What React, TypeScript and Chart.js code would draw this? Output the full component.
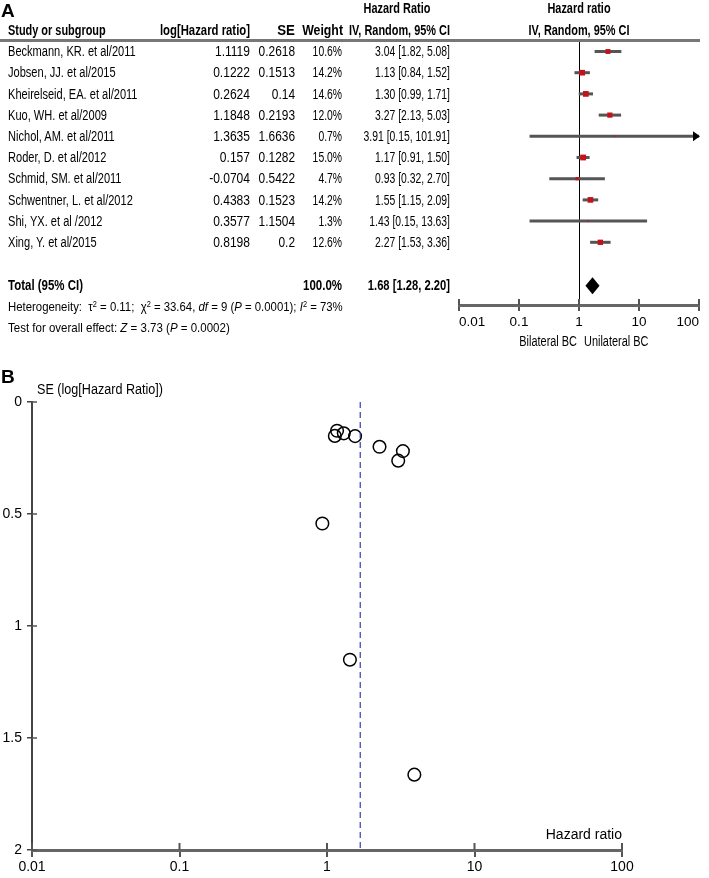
import React, { useEffect, useRef } from 'react';
import { Chart, registerables } from 'chart.js';
Chart.register(...registerables);

// ---------- data ----------
const studyNames = [
  'Beckmann, KR. et al/2011',
  'Jobsen, JJ. et al/2015',
  'Kheirelseid, EA. et al/2011',
  'Kuo, WH. et al/2009',
  'Nichol, AM. et al/2011',
  'Roder, D. et al/2012',
  'Schmid, SM. et al/2011',
  'Schwentner, L. et al/2012',
  'Shi, YX. et al /2012',
  'Xing, Y. et al/2015',
];
const logHRLabels = ['1.1119', '0.1222', '0.2624', '1.1848', '1.3635', '0.157', '-0.0704', '0.4383', '0.3577', '0.8198'];
const seLabels = ['0.2618', '0.1513', '0.14', '0.2193', '1.6636', '0.1282', '0.5422', '0.1523', '1.1504', '0.2'];
const standardErrors = [0.2618, 0.1513, 0.14, 0.2193, 1.6636, 0.1282, 0.5422, 0.1523, 1.1504, 0.2];
const weightPct = [10.6, 14.2, 14.6, 12.0, 0.7, 15.0, 4.7, 14.2, 1.3, 12.6];
const hazardRatios = [3.04, 1.13, 1.3, 3.27, 3.91, 1.17, 0.93, 1.55, 1.43, 2.27];
const ciLower = [1.82, 0.84, 0.99, 2.13, 0.15, 0.91, 0.32, 1.15, 0.15, 1.53];
const ciUpper = [5.08, 1.52, 1.71, 5.03, 101.91, 1.5, 2.7, 2.09, 13.63, 3.36];
const pooledHR = [1.68];
const pooledCI = [1.28, 2.2];
const hrTicks = [0.01, 0.1, 1, 10, 100];
const seTicks = [0, 0.5, 1, 1.5, 2];

// ---------- layout ----------
const FONT = "'Liberation Sans', Arial, sans-serif";
const ROW0 = 51.5;
const ROWH = 21.2;
const TOTAL_ROW = 11.05;
const FOREST_TOP = 40;
const FOREST_BOTTOM = 305;

function Txt({ x, y, a = 'left', s = 14, b = false, k = 1, f = FONT, children }: any) {
  const tx = a === 'left' ? '0' : a === 'right' ? '-100%' : '-50%';
  const origin = a === 'left' ? 'left center' : a === 'right' ? 'right center' : 'center center';
  return (
    <div
      style={{
        position: 'absolute',
        left: x,
        top: y - s * 0.6,
        lineHeight: `${s * 1.2}px`,
        fontSize: s,
        fontWeight: b ? 'bold' : 'normal',
        whiteSpace: 'nowrap',
        transform: `translateX(${tx}) scaleX(${k})`,
        transformOrigin: origin,
        fontFamily: f,
        color: '#000',
      }}
    >
      {children}
    </div>
  );
}

const Sup = ({ children }: any) => (
  <span style={{ fontSize: '0.65em', position: 'relative', top: '-0.55em' }}>{children}</span>
);

export default function App() {
  const forestRef = useRef<HTMLCanvasElement>(null);
  const funnelRef = useRef<HTMLCanvasElement>(null);

  useEffect(() => {
    document.body.style.margin = '0';

    const forestPlugin = {
      id: 'forestExtras',
      beforeDatasetsDraw(chart: any) {
        const { ctx, chartArea, scales } = chart;
        const x1 = scales.x.getPixelForValue(1);
        ctx.save();
        ctx.strokeStyle = '#000';
        ctx.lineWidth = 1;
        ctx.beginPath();
        ctx.moveTo(Math.round(x1) + 0.5, chartArea.top);
        ctx.lineTo(Math.round(x1) + 0.5, chartArea.bottom);
        ctx.stroke();
        ctx.restore();
      },
      afterDatasetsDraw(chart: any) {
        const { ctx, chartArea, scales } = chart;
        const xs = scales.x;
        const ys = scales.y;
        ctx.save();
        // pooled diamond
        const yc = ys.getPixelForValue(TOTAL_ROW);
        const xl = xs.getPixelForValue(pooledCI[0]);
        const xr = xs.getPixelForValue(pooledCI[1]);
        const xm = xs.getPixelForValue(pooledHR[0]);
        ctx.fillStyle = '#000';
        ctx.beginPath();
        ctx.moveTo(xl, yc);
        ctx.lineTo(xm, yc - 8.5);
        ctx.lineTo(xr, yc);
        ctx.lineTo(xm, yc + 8.5);
        ctx.closePath();
        ctx.fill();
        // arrows for CIs beyond axis
        ciUpper.forEach((u, i) => {
          if (u > xs.max) {
            const xa = xs.getPixelForValue(xs.max);
            const ya = ys.getPixelForValue(i);
            ctx.beginPath();
            ctx.moveTo(xa + 1, ya);
            ctx.lineTo(xa - 6, ya - 5);
            ctx.lineTo(xa - 6, ya + 5);
            ctx.closePath();
            ctx.fill();
          }
        });
        // upward part of tick marks
        ctx.strokeStyle = '#555';
        ctx.lineWidth = 2;
        hrTicks.forEach((t) => {
          const px = xs.getPixelForValue(t);
          ctx.beginPath();
          ctx.moveTo(px, chartArea.bottom);
          ctx.lineTo(px, chartArea.bottom - 6);
          ctx.stroke();
        });
        ctx.restore();
      },
    };

    const ciDatasets = studyNames.map((_, i) => ({
      type: 'line' as const,
      data: [
        { x: ciLower[i], y: i },
        { x: ciUpper[i], y: i },
      ],
      borderColor: '#555',
      borderWidth: 3,
      pointRadius: 0,
      order: 2,
    }));

    const forest = new Chart(forestRef.current!, {
      type: 'scatter',
      data: {
        datasets: [
          ...ciDatasets,
          {
            type: 'scatter',
            data: hazardRatios.map((v, i) => ({ x: v, y: i })),
            pointStyle: 'rect',
            pointRadius: weightPct.map((w) => Math.max(1.1, (1.5 * Math.sqrt(w)) / Math.SQRT2)),
            backgroundColor: '#c4121b',
            borderWidth: 0,
            order: 1,
          } as any,
        ],
      },
      options: {
        animation: false,
        responsive: false,
        maintainAspectRatio: false,
        layout: { padding: { left: 459, right: 10, top: FOREST_TOP, bottom: 0 } },
        plugins: { legend: { display: false }, tooltip: { enabled: false } },
        scales: {
          x: {
            type: 'logarithmic',
            min: hrTicks[0],
            max: hrTicks[hrTicks.length - 1],
            afterBuildTicks: (s: any) => {
              s.ticks = hrTicks.map((v) => ({ value: v }));
            },
            afterFit: (s: any) => {
              s.height = 360 - FOREST_BOTTOM;
            },
            ticks: {
              callback: (v: any) => String(v),
              font: { family: FONT, size: 13.5 },
              color: '#000',
              padding: 3,
              align: 'inner',
              autoSkip: false,
              maxRotation: 0,
            },
            grid: { drawOnChartArea: false, drawTicks: true, tickLength: 6, color: '#555', lineWidth: 2 },
            border: { display: true, color: '#666', width: 3 },
          },
          y: {
            type: 'linear',
            display: false,
            reverse: true,
            min: -(ROW0 - FOREST_TOP) / ROWH,
            max: -(ROW0 - FOREST_TOP) / ROWH + (FOREST_BOTTOM - FOREST_TOP) / ROWH,
          },
        },
      } as any,
      plugins: [forestPlugin],
    });

    const funnelPlugin = {
      id: 'funnelExtras',
      afterDraw(chart: any) {
        const { ctx, chartArea, scales } = chart;
        ctx.save();
        ctx.strokeStyle = '#555';
        ctx.lineWidth = 2;
        hrTicks.forEach((t) => {
          const px = scales.x.getPixelForValue(t);
          ctx.beginPath();
          ctx.moveTo(px, chartArea.bottom);
          ctx.lineTo(px, chartArea.bottom - 7);
          ctx.stroke();
        });
        ctx.lineWidth = 1.5;
        seTicks.forEach((t) => {
          const py = scales.y.getPixelForValue(t);
          ctx.beginPath();
          ctx.moveTo(chartArea.left, py);
          ctx.lineTo(chartArea.left + 5, py);
          ctx.stroke();
        });
        ctx.restore();
      },
    };

    const funnel = new Chart(funnelRef.current!, {
      type: 'scatter',
      data: {
        datasets: [
          {
            type: 'line',
            data: [
              { x: pooledHR[0], y: seTicks[0] },
              { x: pooledHR[0], y: seTicks[seTicks.length - 1] },
            ],
            borderColor: '#3a3ab0',
            borderWidth: 1.2,
            borderDash: [6, 4],
            pointRadius: 0,
          } as any,
          {
            type: 'scatter',
            data: hazardRatios.map((v, i) => ({ x: v, y: standardErrors[i] })),
            pointStyle: 'circle',
            pointRadius: 6.3,
            backgroundColor: 'rgba(0,0,0,0)',
            borderColor: '#000',
            borderWidth: 1.5,
          },
        ],
      },
      options: {
        animation: false,
        responsive: false,
        maintainAspectRatio: false,
        layout: { padding: { left: 0, right: 709 - 622, top: 42, bottom: 0 } },
        plugins: { legend: { display: false }, tooltip: { enabled: false } },
        scales: {
          x: {
            type: 'logarithmic',
            min: hrTicks[0],
            max: hrTicks[hrTicks.length - 1],
            afterBuildTicks: (s: any) => {
              s.ticks = hrTicks.map((v) => ({ value: v }));
            },
            afterFit: (s: any) => {
              s.height = 28;
            },
            ticks: {
              callback: (v: any) => String(v),
              font: { family: FONT, size: 14 },
              color: '#000',
              padding: 2,
              autoSkip: false,
              maxRotation: 0,
            },
            grid: { drawOnChartArea: false, drawTicks: true, tickLength: 7, color: '#555', lineWidth: 2 },
            border: { display: true, color: '#666', width: 3 },
          },
          y: {
            type: 'linear',
            reverse: true,
            min: seTicks[0],
            max: seTicks[seTicks.length - 1],
            afterBuildTicks: (s: any) => {
              s.ticks = seTicks.map((v) => ({ value: v }));
            },
            afterFit: (s: any) => {
              s.width = 32;
            },
            ticks: { callback: (v: any) => String(v), font: { family: FONT, size: 14 }, color: '#000', padding: 5 },
            grid: { drawOnChartArea: false, drawTicks: true, tickLength: 5, color: '#444', lineWidth: 1.5 },
            border: { display: true, color: '#444', width: 2 },
          },
        },
      } as any,
      plugins: [funnelPlugin],
    });

    return () => {
      forest.destroy();
      funnel.destroy();
    };
  }, []);

  const rowY = (i: number) => ROW0 + ROWH * i;
  const totalY = ROW0 + ROWH * TOTAL_ROW;

  return (
    <div style={{ position: 'absolute', left: 0, top: 0, width: 709, height: 878, background: '#fff', overflow: 'hidden' }}>
      <canvas ref={forestRef} width={709} height={360} style={{ position: 'absolute', left: 0, top: 0 }} />
      <canvas ref={funnelRef} width={709} height={518} style={{ position: 'absolute', left: 0, top: 360 }} />

      <Txt x={1} y={11} s={19} b>A</Txt>
      <Txt x={397} y={8} a="center" b k={0.78}>Hazard Ratio</Txt>
      <Txt x={579} y={8} a="center" b k={0.78}>Hazard ratio</Txt>
      <Txt x={8} y={30} b k={0.78}>Study or subgroup</Txt>
      <Txt x={250} y={30} a="right" b k={0.81}>log[Hazard ratio]</Txt>
      <Txt x={295} y={30} a="right" b k={0.95}>SE</Txt>
      <Txt x={343} y={30} a="right" b k={0.88}>Weight</Txt>
      <Txt x={450} y={30} a="right" b k={0.78}>IV, Random, 95% CI</Txt>
      <Txt x={579} y={30} a="center" b k={0.78}>IV, Random, 95% CI</Txt>
      <div style={{ position: 'absolute', left: 0, top: 39, width: 700, height: 3, background: '#777' }} />

      {studyNames.map((n, i) => (
        <React.Fragment key={n}>
          <Txt x={8} y={rowY(i)} k={0.79}>{n}</Txt>
          <Txt x={250} y={rowY(i)} a="right" k={0.86}>{logHRLabels[i]}</Txt>
          <Txt x={295} y={rowY(i)} a="right" k={0.85}>{seLabels[i]}</Txt>
          <Txt x={342} y={rowY(i)} a="right" k={0.74}>{weightPct[i].toFixed(1)}%</Txt>
          <Txt x={450} y={rowY(i)} a="right" k={0.74}>
            {hazardRatios[i].toFixed(2)} [{ciLower[i].toFixed(2)}, {ciUpper[i].toFixed(2)}]
          </Txt>
        </React.Fragment>
      ))}

      <Txt x={8} y={totalY} b k={0.82}>Total (95% CI)</Txt>
      <Txt x={342} y={totalY} a="right" b k={0.82}>100.0%</Txt>
      <Txt x={450} y={totalY} a="right" b k={0.8}>
        {pooledHR[0].toFixed(2)} [{pooledCI[0].toFixed(2)}, {pooledCI[1].toFixed(2)}]
      </Txt>
      <Txt x={8} y={307} s={13} k={0.875}>
        Heterogeneity:&nbsp; τ<Sup>2</Sup> = 0.11;&nbsp; χ<Sup>2</Sup> = 33.64, <i>df</i> = 9 (<i>P</i> = 0.0001); <i>I</i>
        <Sup>2</Sup> = 73%
      </Txt>
      <Txt x={8} y={328} s={13} k={0.885}>
        Test for overall effect: <i>Z</i> = 3.73 (<i>P</i> = 0.0002)
      </Txt>
      <Txt x={577} y={341} a="right" k={0.78}>Bilateral BC</Txt>
      <Txt x={584} y={341} k={0.78}>Unilateral BC</Txt>

      <Txt x={1} y={377} s={19} b>B</Txt>
      <Txt x={37} y={389} k={0.9}>SE (log[Hazard Ratio])</Txt>
      <Txt x={622} y={834} a="right">Hazard ratio</Txt>
    </div>
  );
}
